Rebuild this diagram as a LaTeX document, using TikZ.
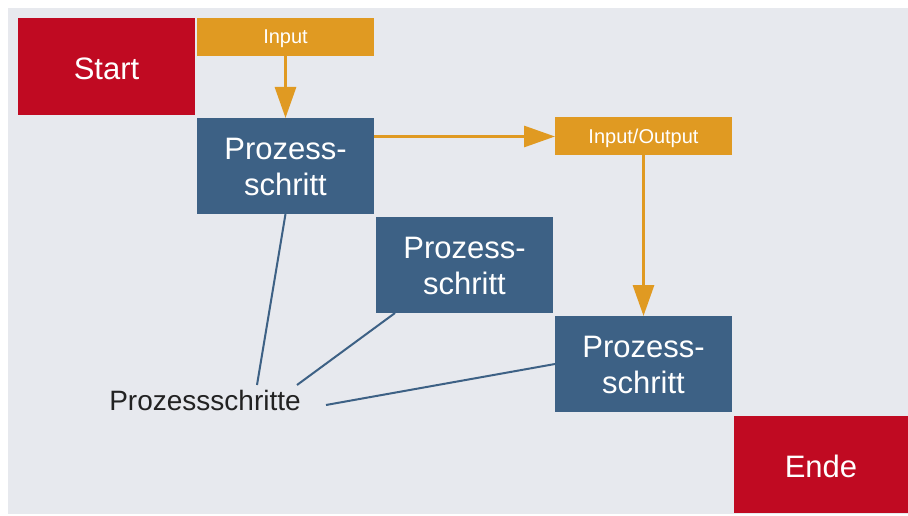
\documentclass[tikz,border=0pt]{standalone}
\usepackage{fontspec}
\setmainfont{Liberation Sans}
\usetikzlibrary{arrows.meta}
\definecolor{bgray}{HTML}{E7E9EE}
\definecolor{cred}{HTML}{C00A22}
\definecolor{corange}{HTML}{E09A22}
\definecolor{cblue}{HTML}{3D6185}
\definecolor{ctext}{HTML}{222222}
\newcommand\twolines[2]{\begin{tabular}[b]{@{}c@{}}#1\\#2\end{tabular}}
\tikzset{
  box/.style={rectangle, inner sep=0pt, outer sep=0pt, minimum width=177pt, text=white},
  redbox/.style={box, fill=cred, minimum height=97pt, text height=26pt, text depth=0pt, font=\fontsize{31}{36}\selectfont},
  iobox/.style={box, fill=corange, minimum height=38pt, text depth=0pt, font=\fontsize{20}{24}\selectfont},
  psbox/.style={box, fill=cblue, minimum height=96pt, text height=59pt, text depth=0pt, font=\fontsize{31}{36}\selectfont},
  flow/.style={draw=corange, line width=3pt, -{Triangle[length=31pt,width=21pt]}},
  link/.style={draw=cblue, line width=2pt}
}
\begin{document}
\begin{tikzpicture}[x=1pt,y=-1pt]
\useasboundingbox (0,0) rectangle (908,516);
\fill[white] (0,0) rectangle (908,516);
\fill[bgray] (8,8) rectangle (908,514);
\node[redbox] (start) at (106.5,66.5) {Start};
\node[iobox] (in) at (285.5,37) {Input};
\node[psbox] (ps1) at (285.5,166) {\twolines{Prozess-}{schritt}};
\node[iobox] (io) at (643.5,136.5) {Input/Output};
\node[psbox] (ps2) at (464.5,265) {\twolines{Prozess-}{schritt}};
\node[psbox] (ps3) at (643.5,364) {\twolines{Prozess-}{schritt}};
\node[redbox, minimum width=174pt] (ende) at (821,464.5) {Ende};
\node[inner sep=0pt, text=ctext, font=\fontsize{28}{32}\selectfont] (lbl) at (205,400) {Prozessschritte};
\coordinate (e1) at (257,385);
\coordinate (e2) at (297,385);
\coordinate (e3) at (326,405);
\draw[flow] (in.south) -- (ps1.north);
\draw[flow] (io.west -| ps1.east) -- (io.west);
\draw[flow] (io.south) -- (ps3.north);
\draw[link] (ps1.south) -- (e1);
\draw[link] ([xshift=19pt]ps2.south west) -- (e2);
\draw[link] (ps3.west) -- (e3);
\end{tikzpicture}
\end{document}
